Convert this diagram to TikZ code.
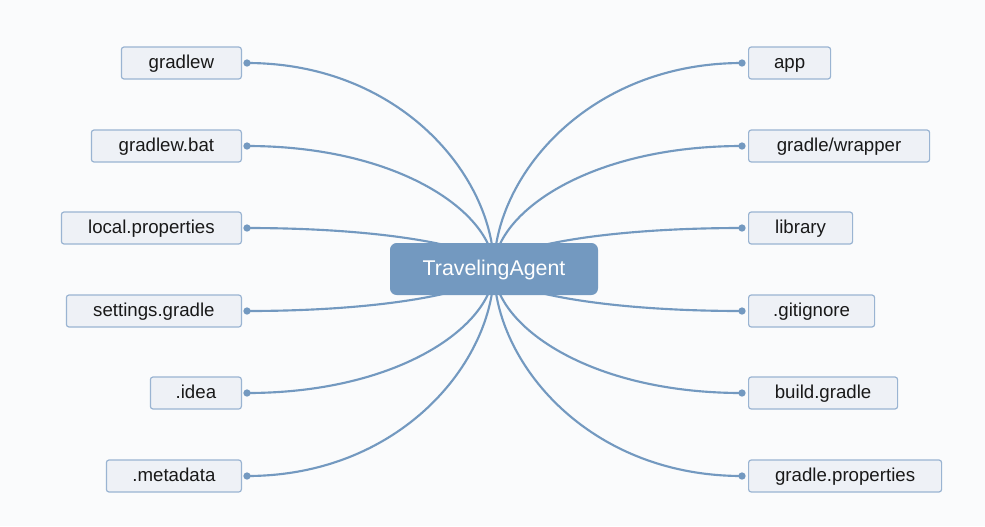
\documentclass[tikz,border=0pt]{standalone}
\usepackage{fontspec}
\setmainfont{Liberation Sans}
\definecolor{linkblue}{HTML}{7399C0}
\definecolor{boxfill}{HTML}{EEF1F6}
\definecolor{boxline}{HTML}{9AB4D2}
\definecolor{pagebg}{HTML}{FAFBFC}

\tikzset{
  leaf/.style={draw=boxline, fill=boxfill, line width=0.9pt, rounded corners=2pt,
    minimum height=24pt, inner xsep=0pt, text height=10.5pt, text depth=2pt,
    text=black!90, font=\fontsize{14}{16}\selectfont},
  root/.style={fill=linkblue, rounded corners=5pt, text=white, minimum width=156pt,
    minimum height=39pt, text height=12pt, text depth=2.5pt,
    font=\fontsize{16}{18}\selectfont},
  dot/.style={circle, fill=linkblue, inner sep=0pt, minimum size=5.5pt},
  link/.style={linkblue, line width=1.6pt}
}

\begin{document}
\begin{tikzpicture}[x=0.75pt, y=-0.75pt]
        \fill [pagebg] (0, 0) rectangle (985, 526);
        \useasboundingbox (0, 0) rectangle (985, 526);

        \coordinate (hub) at (494, 269);

        % left side
        \foreach \name/\txt/\w/\y in {l1/gradlew/120/63, l2/gradlew.bat/150/146,
            l3/local.properties/180/228, l4/settings.gradle/175/311,
            l5/.idea/91/393, l6/.metadata/135/476} {
            \node [dot] (d\name) at (247, \y) {};
            \draw [link] (d\name.center) .. controls (400, \y) and (494, {269 + (\y - 269) * 0.45}) .. (hub);
            \node [leaf, minimum width=\w*0.75pt, anchor=east] (\name) at (242, \y) {\txt};
        }

        % right side
        \foreach \name/\txt/\w/\y in {r1/app/82/63, r2/gradle\slash wrapper/181/146,
            r3/library/104/228, r4/.gitignore/126/311,
            r5/build.gradle/149/393, r6/gradle.properties/193/476} {
            \node [dot] (d\name) at (742, \y) {};
            \draw [link] (d\name.center) .. controls (588, \y) and (494, {269 + (\y - 269) * 0.45}) .. (hub);
            \node [leaf, minimum width=\w*0.75pt, anchor=west] (\name) at (748, \y) {\txt};
        }

        \node [root] (agent) at (hub) {TravelingAgent};
\end{tikzpicture}
\end{document}
